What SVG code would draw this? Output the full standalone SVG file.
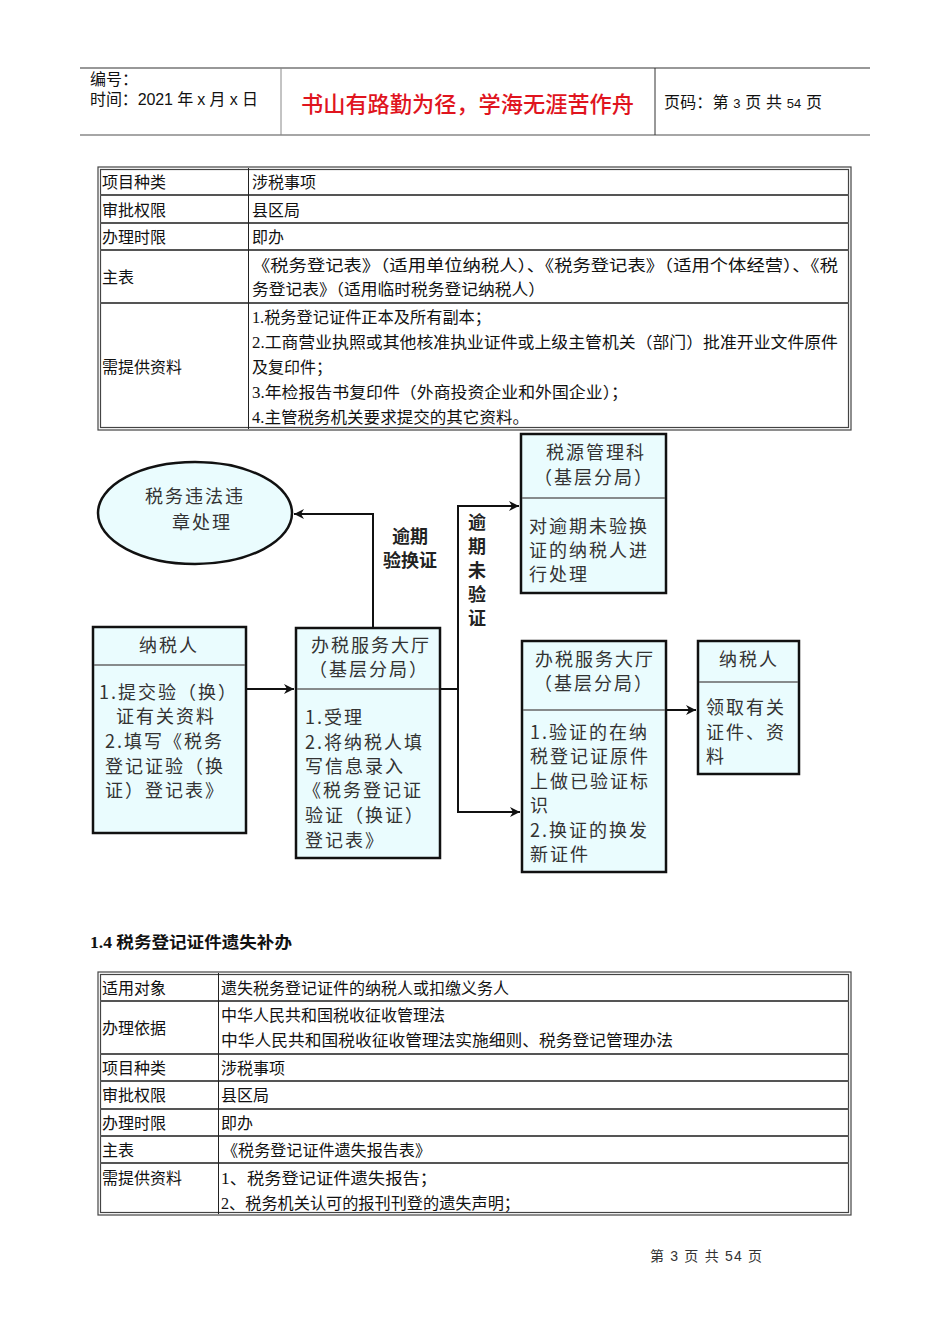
<svg xmlns="http://www.w3.org/2000/svg" width="950" height="1344" viewBox="0 0 950 1344">
<style>
.hd{font-family:"Liberation Sans","Noto Sans CJK SC",sans-serif;font-size:16px;fill:#111}
.red{font-family:"Liberation Sans","Noto Sans CJK SC",sans-serif;font-size:22px;font-weight:500;fill:#e0141e}
.tb{font-family:"Liberation Serif","Noto Sans CJK SC",serif;font-size:16px;fill:#111}
.fc{font-family:"Noto Sans CJK SC",sans-serif;font-size:18px;fill:#333;letter-spacing:2px}
.fb{font-family:"Noto Sans CJK SC",sans-serif;font-size:18px;font-weight:bold;fill:#222}
.box{fill:#eafcfe;stroke:#111;stroke-width:2.5}
.div{stroke:#666;stroke-width:1.5}
.ln{stroke:#111;stroke-width:2;fill:none}
.tbo{fill:none;stroke:#444;stroke-width:1.2}
.row{stroke:#555;stroke-width:2.2}
.col{stroke:#222;stroke-width:1}
.ft{font-family:"Liberation Sans","Noto Sans CJK SC",sans-serif;font-size:14px;fill:#333}
</style>
<defs>
<marker id="ah" markerWidth="12" markerHeight="12" refX="10" refY="5" orient="auto" markerUnits="userSpaceOnUse">
<path d="M0,0 L10,5 L0,10 L3,5 z" fill="#111"/>
</marker>
</defs>
<rect width="950" height="1344" fill="#fff"/>

<g id="header">
<line x1="80" y1="68" x2="870" y2="68" stroke="#333" stroke-width="1.2"/>
<line x1="80" y1="135" x2="870" y2="135" stroke="#888" stroke-width="1.5"/>
<line x1="281" y1="68" x2="281" y2="135" stroke="#888" stroke-width="1"/>
<line x1="655" y1="68" x2="655" y2="135" stroke="#333" stroke-width="1"/>
<text class="hd" x="90" y="85">编号：</text>
<text class="hd" x="90" y="105" textLength="168" lengthAdjust="spacing">时间：2021 年 x 月 x 日</text>
<text class="red" x="301" y="112" textLength="333" lengthAdjust="spacingAndGlyphs">书山有路勤为径，学海无涯苦作舟</text>
<text class="hd" x="664" y="108" textLength="158" lengthAdjust="spacing">页码：第 <tspan font-size="13">3</tspan> 页  共 <tspan font-size="13">54</tspan> 页</text>
</g>

<g id="table1">
<rect class="tbo" x="98" y="167" width="753" height="263"/>
<rect class="tbo" x="100.5" y="169.5" width="748" height="258"/>
<line class="row" x1="100" y1="195" x2="849" y2="195"/>
<line class="row" x1="100" y1="223" x2="849" y2="223"/>
<line class="row" x1="100" y1="250" x2="849" y2="250"/>
<line class="row" x1="100" y1="303" x2="849" y2="303"/>
<line class="col" x1="248.5" y1="168" x2="248.5" y2="429"/>
<text class="tb" x="102" y="188">项目种类</text>
<text class="tb" x="252" y="188">涉税事项</text>
<text class="tb" x="102" y="216">审批权限</text>
<text class="tb" x="252" y="216">县区局</text>
<text class="tb" x="102" y="243">办理时限</text>
<text class="tb" x="252" y="243">即办</text>
<text class="tb" x="102" y="283">主表</text>
<text class="tb" x="252" y="271" textLength="586" lengthAdjust="spacingAndGlyphs">《税务登记表》（适用单位纳税人）、《税务登记表》（适用个体经营）、《税</text>
<text class="tb" x="252" y="295" textLength="293" lengthAdjust="spacingAndGlyphs">务登记表》（适用临时税务登记纳税人）</text>
<text class="tb" x="102" y="373">需提供资料</text>
<text class="tb" x="252" y="323" textLength="239" lengthAdjust="spacingAndGlyphs">1.税务登记证件正本及所有副本；</text>
<text class="tb" x="252" y="348" textLength="586" lengthAdjust="spacingAndGlyphs">2.工商营业执照或其他核准执业证件或上级主管机关（部门）批准开业文件原件</text>
<text class="tb" x="252" y="373">及复印件；</text>
<text class="tb" x="252" y="398" textLength="376" lengthAdjust="spacingAndGlyphs">3.年检报告书复印件（外商投资企业和外国企业）；</text>
<text class="tb" x="252" y="423" textLength="277" lengthAdjust="spacingAndGlyphs">4.主管税务机关要求提交的其它资料。</text>
</g>

<g id="n-violation">
<ellipse cx="195" cy="513" rx="97" ry="51" class="box"/>
<text class="fc" x="195" y="503" text-anchor="middle">税务违法违</text>
<text class="fc" x="202" y="529" text-anchor="middle">章处理</text>
</g>

<g id="n-source">
<rect class="box" x="521" y="434" width="145" height="159"/>
<line class="div" x1="522" y1="498" x2="665" y2="498"/>
<text class="fc" x="596" y="459" text-anchor="middle">税源管理科</text>
<text class="fc" x="594" y="484" text-anchor="middle">（基层分局）</text>
<text class="fc" x="529" y="533">对逾期未验换</text>
<text class="fc" x="529" y="557">证的纳税人进</text>
<text class="fc" x="529" y="581">行处理</text>
</g>

<g id="n-taxpayer1">
<rect class="box" x="93" y="627" width="153" height="206"/>
<line class="div" x1="94" y1="665" x2="245" y2="665"/>
<text class="fc" x="169" y="652" text-anchor="middle">纳税人</text>
<text class="fc" x="99" y="699">1.提交验（换）</text>
<text class="fc" x="116" y="723">证有关资料</text>
<text class="fc" x="105" y="748">2.填写《税务</text>
<text class="fc" x="105" y="773">登记证验（换</text>
<text class="fc" x="105" y="797">证）登记表》</text>
</g>

<g id="n-hall1">
<rect class="box" x="296" y="628" width="144" height="230"/>
<line class="div" x1="297" y1="689" x2="439" y2="689"/>
<text class="fc" x="371" y="652" text-anchor="middle">办税服务大厅</text>
<text class="fc" x="369" y="676" text-anchor="middle">（基层分局）</text>
<text class="fc" x="305" y="724">1.受理</text>
<text class="fc" x="305" y="749">2.将纳税人填</text>
<text class="fc" x="305" y="773">写信息录入</text>
<text class="fc" x="303" y="797">《税务登记证</text>
<text class="fc" x="305" y="822">验证（换证）</text>
<text class="fc" x="305" y="847">登记表》</text>
</g>

<g id="n-hall2">
<rect class="box" x="522" y="641" width="144" height="231"/>
<line class="div" x1="523" y1="710" x2="665" y2="710"/>
<text class="fc" x="595" y="666" text-anchor="middle">办税服务大厅</text>
<text class="fc" x="594" y="690" text-anchor="middle">（基层分局）</text>
<text class="fc" x="530" y="739">1.验证的在纳</text>
<text class="fc" x="530" y="763">税登记证原件</text>
<text class="fc" x="530" y="788">上做已验证标</text>
<text class="fc" x="530" y="812">识</text>
<text class="fc" x="530" y="837">2.换证的换发</text>
<text class="fc" x="530" y="861">新证件</text>
</g>

<g id="n-taxpayer2">
<rect class="box" x="698" y="641" width="101" height="133"/>
<line class="div" x1="699" y1="682" x2="798" y2="682"/>
<text class="fc" x="749" y="666" text-anchor="middle">纳税人</text>
<text class="fc" x="706" y="714">领取有关</text>
<text class="fc" x="706" y="739">证件、资</text>
<text class="fc" x="706" y="763">料</text>
</g>

<g id="connectors">
<polyline class="ln" points="373,628 373,514 294,514" marker-end="url(#ah)"/>
<line class="ln" x1="246" y1="689" x2="294" y2="689" marker-end="url(#ah)"/>
<polyline class="ln" points="440,689 458,689"/>
<polyline class="ln" points="458,812 458,506 519,506" marker-end="url(#ah)"/>
<polyline class="ln" points="458,700 458,812 520,812" marker-end="url(#ah)"/>
<line class="ln" x1="666" y1="710" x2="696" y2="710" marker-end="url(#ah)"/>
<text class="fb" x="410" y="543" text-anchor="middle">逾期</text>
<text class="fb" x="410" y="567" text-anchor="middle">验换证</text>
<text class="fb" x="477" y="529" text-anchor="middle">逾</text>
<text class="fb" x="477" y="553" text-anchor="middle">期</text>
<text class="fb" x="477" y="577" text-anchor="middle">未</text>
<text class="fb" x="477" y="601" text-anchor="middle">验</text>
<text class="fb" x="477" y="625" text-anchor="middle">证</text>
</g>

<g id="heading">
<text class="tb" x="90" y="948" font-weight="bold" font-size="15" textLength="202" lengthAdjust="spacingAndGlyphs">1.4 税务登记证件遗失补办</text>
</g>

<g id="table2">
<rect class="tbo" x="98" y="972" width="753" height="243"/>
<rect class="tbo" x="100.5" y="974.5" width="748" height="238"/>
<line class="row" x1="100" y1="1001" x2="849" y2="1001"/>
<line class="row" x1="100" y1="1054" x2="849" y2="1054"/>
<line class="row" x1="100" y1="1081" x2="849" y2="1081"/>
<line class="row" x1="100" y1="1109" x2="849" y2="1109"/>
<line class="row" x1="100" y1="1136" x2="849" y2="1136"/>
<line class="row" x1="100" y1="1163" x2="849" y2="1163"/>
<line class="col" x1="218.5" y1="973" x2="218.5" y2="1214"/>
<text class="tb" x="102" y="994">适用对象</text>
<text class="tb" x="221" y="994">遗失税务登记证件的纳税人或扣缴义务人</text>
<text class="tb" x="102" y="1034">办理依据</text>
<text class="tb" x="221" y="1021">中华人民共和国税收征收管理法</text>
<text class="tb" x="221" y="1046" textLength="452" lengthAdjust="spacingAndGlyphs">中华人民共和国税收征收管理法实施细则、税务登记管理办法</text>
<text class="tb" x="102" y="1074">项目种类</text>
<text class="tb" x="221" y="1074">涉税事项</text>
<text class="tb" x="102" y="1101">审批权限</text>
<text class="tb" x="221" y="1101">县区局</text>
<text class="tb" x="102" y="1129">办理时限</text>
<text class="tb" x="221" y="1129">即办</text>
<text class="tb" x="102" y="1156">主表</text>
<text class="tb" x="222" y="1156" textLength="209" lengthAdjust="spacingAndGlyphs">《税务登记证件遗失报告表》</text>
<text class="tb" x="102" y="1184">需提供资料</text>
<text class="tb" x="221" y="1184" textLength="216" lengthAdjust="spacingAndGlyphs">1、税务登记证件遗失报告；</text>
<text class="tb" x="221" y="1209" textLength="299" lengthAdjust="spacingAndGlyphs">2、税务机关认可的报刊刊登的遗失声明；</text>
</g>

<g id="footer">
<text class="ft" x="650" y="1261" textLength="112" lengthAdjust="spacing">第 3 页 共 54 页</text>
</g>
</svg>
